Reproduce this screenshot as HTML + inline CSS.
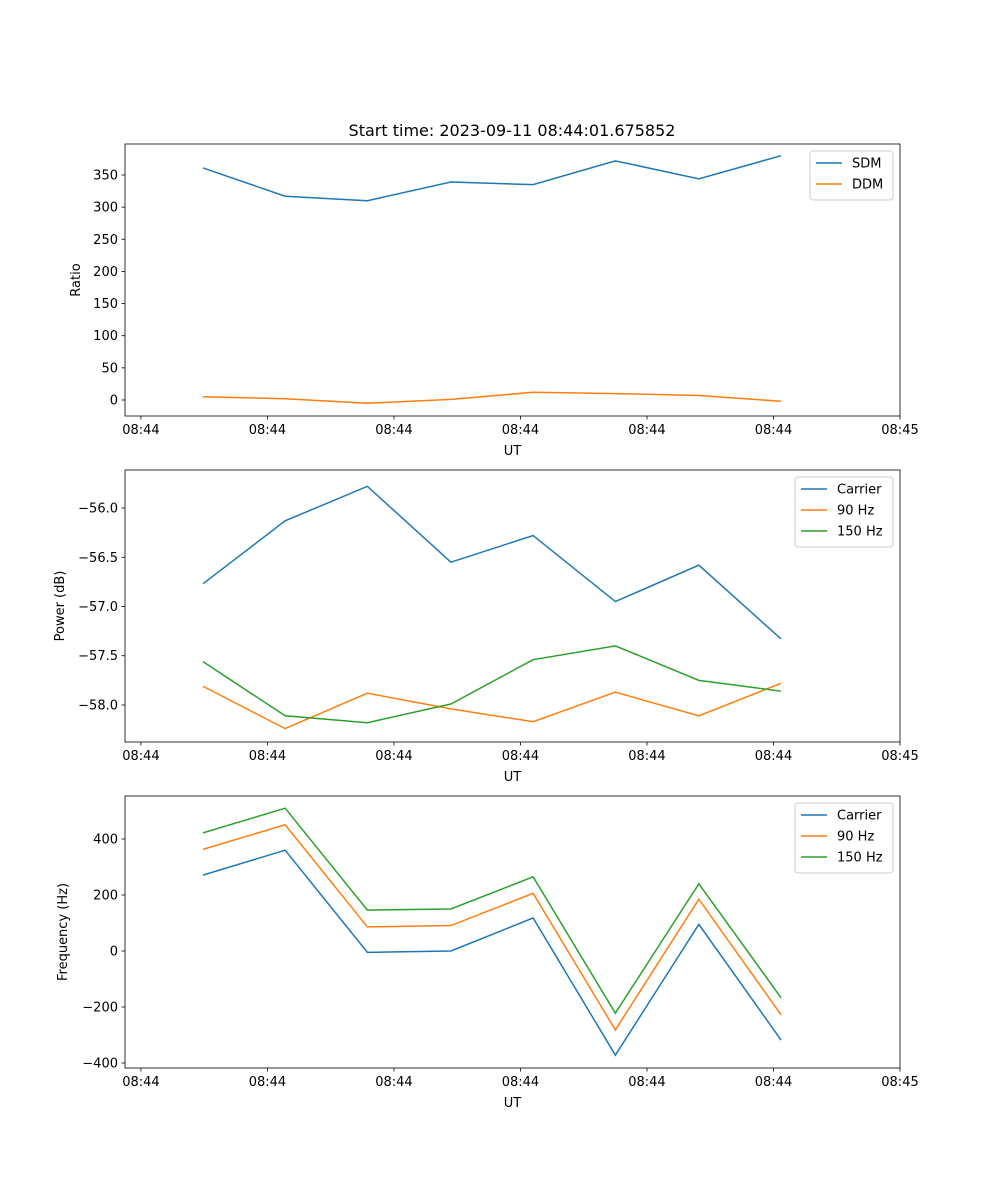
<!DOCTYPE html>
<html><head><meta charset="utf-8"><style>
body{margin:0;background:#fff;}
svg{display:block;font-family:"DejaVu Sans","Liberation Sans",sans-serif;}
</style></head><body>
<svg id="fig" width="1000" height="1200" viewBox="0 0 1000 1200" xmlns="http://www.w3.org/2000/svg">
<text x="512" y="136" font-size="16" text-anchor="middle">Start time: 2023-09-11 08:44:01.675852</text>
</svg>
<script>
const xVals = [0.49, 1.14, 1.79, 2.45, 3.10, 3.75, 4.41, 5.06];
const xTicks = [0, 1, 2, 3, 4, 5, 6];
const xTickLabels = ["08:44","08:44","08:44","08:44","08:44","08:44","08:45"];
const sdm = [361, 317, 310, 339, 335, 372, 344, 380];
const ddm = [5, 2, -5, 1, 12, 10, 7, -2];
const ratioTicks = [0, 50, 100, 150, 200, 250, 300, 350];
const powCarrier = [-56.77, -56.13, -55.78, -56.55, -56.28, -56.95, -56.58, -57.33];
const pow90 = [-57.81, -58.24, -57.88, -58.04, -58.17, -57.87, -58.11, -57.78];
const pow150 = [-57.56, -58.11, -58.18, -57.99, -57.54, -57.40, -57.75, -57.86];
const powTicks = [-58.0, -57.5, -57.0, -56.5, -56.0];
const freqCarrier = [271, 360, -5, 0, 118, -372, 95, -318];
const freq90 = [363, 451, 86, 91, 206, -282, 185, -228];
const freq150 = [422, 510, 146, 150, 265, -222, 240, -167];
const freqTicks = [-400, -200, 0, 200, 400];

const NS = "http://www.w3.org/2000/svg";
const svg = document.getElementById("fig");
function el(tag, attrs, parent){const e=document.createElementNS(NS,tag);for(const k in attrs)e.setAttribute(k,attrs[k]);(parent||svg).appendChild(e);return e;}
const L=125,R=900;
const xMin=-0.126,xMax=6.0;
function xs(v){return L+(v-xMin)/(xMax-xMin)*(R-L);}

function panel(name,top,bot,yMin,yMax,yTicks,fmt,ylabel,series,legend){
  const g=el("g",{});
  
  
  const ys=v=>bot-(v-yMin)/(yMax-yMin)*(bot-top);
  series.forEach(s=>{
    const p=el("polyline",{points:s.data.map((v,i)=>xs(xVals[i])+","+ys(v)).join(" "),fill:"none",stroke:s.color,"stroke-width":1.5},g);
    
    
  });
  const f=el("rect",{x:L,y:top,width:R-L,height:bot-top,fill:"none",stroke:"#000","stroke-width":0.8},g);
  
  
  xTicks.forEach((t,i)=>{
    const x=xs(t);
    el("line",{x1:x,x2:x,y1:bot,y2:bot+3.5,stroke:"#000","stroke-width":0.8},g);
    const tx=el("text",{x:x,y:bot+18,"font-size":13,"text-anchor":"middle"},g);
    tx.textContent=xTickLabels[i];
    
    
  });
  yTicks.forEach(t=>{
    const y=ys(t);
    el("line",{x1:L-3.5,x2:L,y1:y,y2:y,stroke:"#000","stroke-width":0.8},g);
    const tx=el("text",{x:L-7,y:y+4.5,"font-size":13,"text-anchor":"end"},g);
    tx.textContent=fmt(t);
    
    
  });
  const xl=el("text",{x:(L+R)/2,y:bot+39,"font-size":13,"text-anchor":"middle"},g);
  xl.textContent="UT";
  
  
  const cy=(top+bot)/2;
  const yl=el("text",{x:0,y:0,"font-size":13,"text-anchor":"middle",transform:`translate(${legend.ylx},${cy}) rotate(-90)`},g);
  yl.textContent=ylabel;
  
  
  const lg=el("g",{},g);
  
  
  el("rect",{x:legend.x,y:top+7,width:R-7-legend.x,height:series.length*21+7,rx:3,fill:"#fff","fill-opacity":0.8,stroke:"#ccc"},lg);
  series.forEach((s,i)=>{
    const y=top+19+i*21;
    el("line",{x1:legend.x+6,x2:legend.x+32,y1:y,y2:y,stroke:s.color,"stroke-width":1.5},lg);
    const t=el("text",{x:legend.x+42,y:y+4.5,"font-size":13},lg);
    t.textContent=s.label;
    
    
  });
}
panel("ratio",144,416,-24.9,398.2,ratioTicks,v=>String(v),"Ratio",
  [{key:"sdm",label:"SDM",data:sdm,color:"#1f77b4"},{key:"ddm",label:"DDM",data:ddm,color:"#ff7f0e"}],{x:810,ylx:80});
panel("power",470,742,-58.376,-55.614,powTicks,v=>v.toFixed(1).replace("-","\u2212"),"Power (dB)",
  [{key:"carrier",label:"Carrier",data:powCarrier,color:"#1f77b4"},{key:"90hz",label:"90 Hz",data:pow90,color:"#ff7f0e"},{key:"150hz",label:"150 Hz",data:pow150,color:"#2ca02c"}],{x:795,ylx:64});
panel("frequency",796,1068,-417.9,553.6,freqTicks,v=>String(v).replace("-","\u2212"),"Frequency (Hz)",
  [{key:"carrier",label:"Carrier",data:freqCarrier,color:"#1f77b4"},{key:"90hz",label:"90 Hz",data:freq90,color:"#ff7f0e"},{key:"150hz",label:"150 Hz",data:freq150,color:"#2ca02c"}],{x:795,ylx:67});
</script>
</body></html>
